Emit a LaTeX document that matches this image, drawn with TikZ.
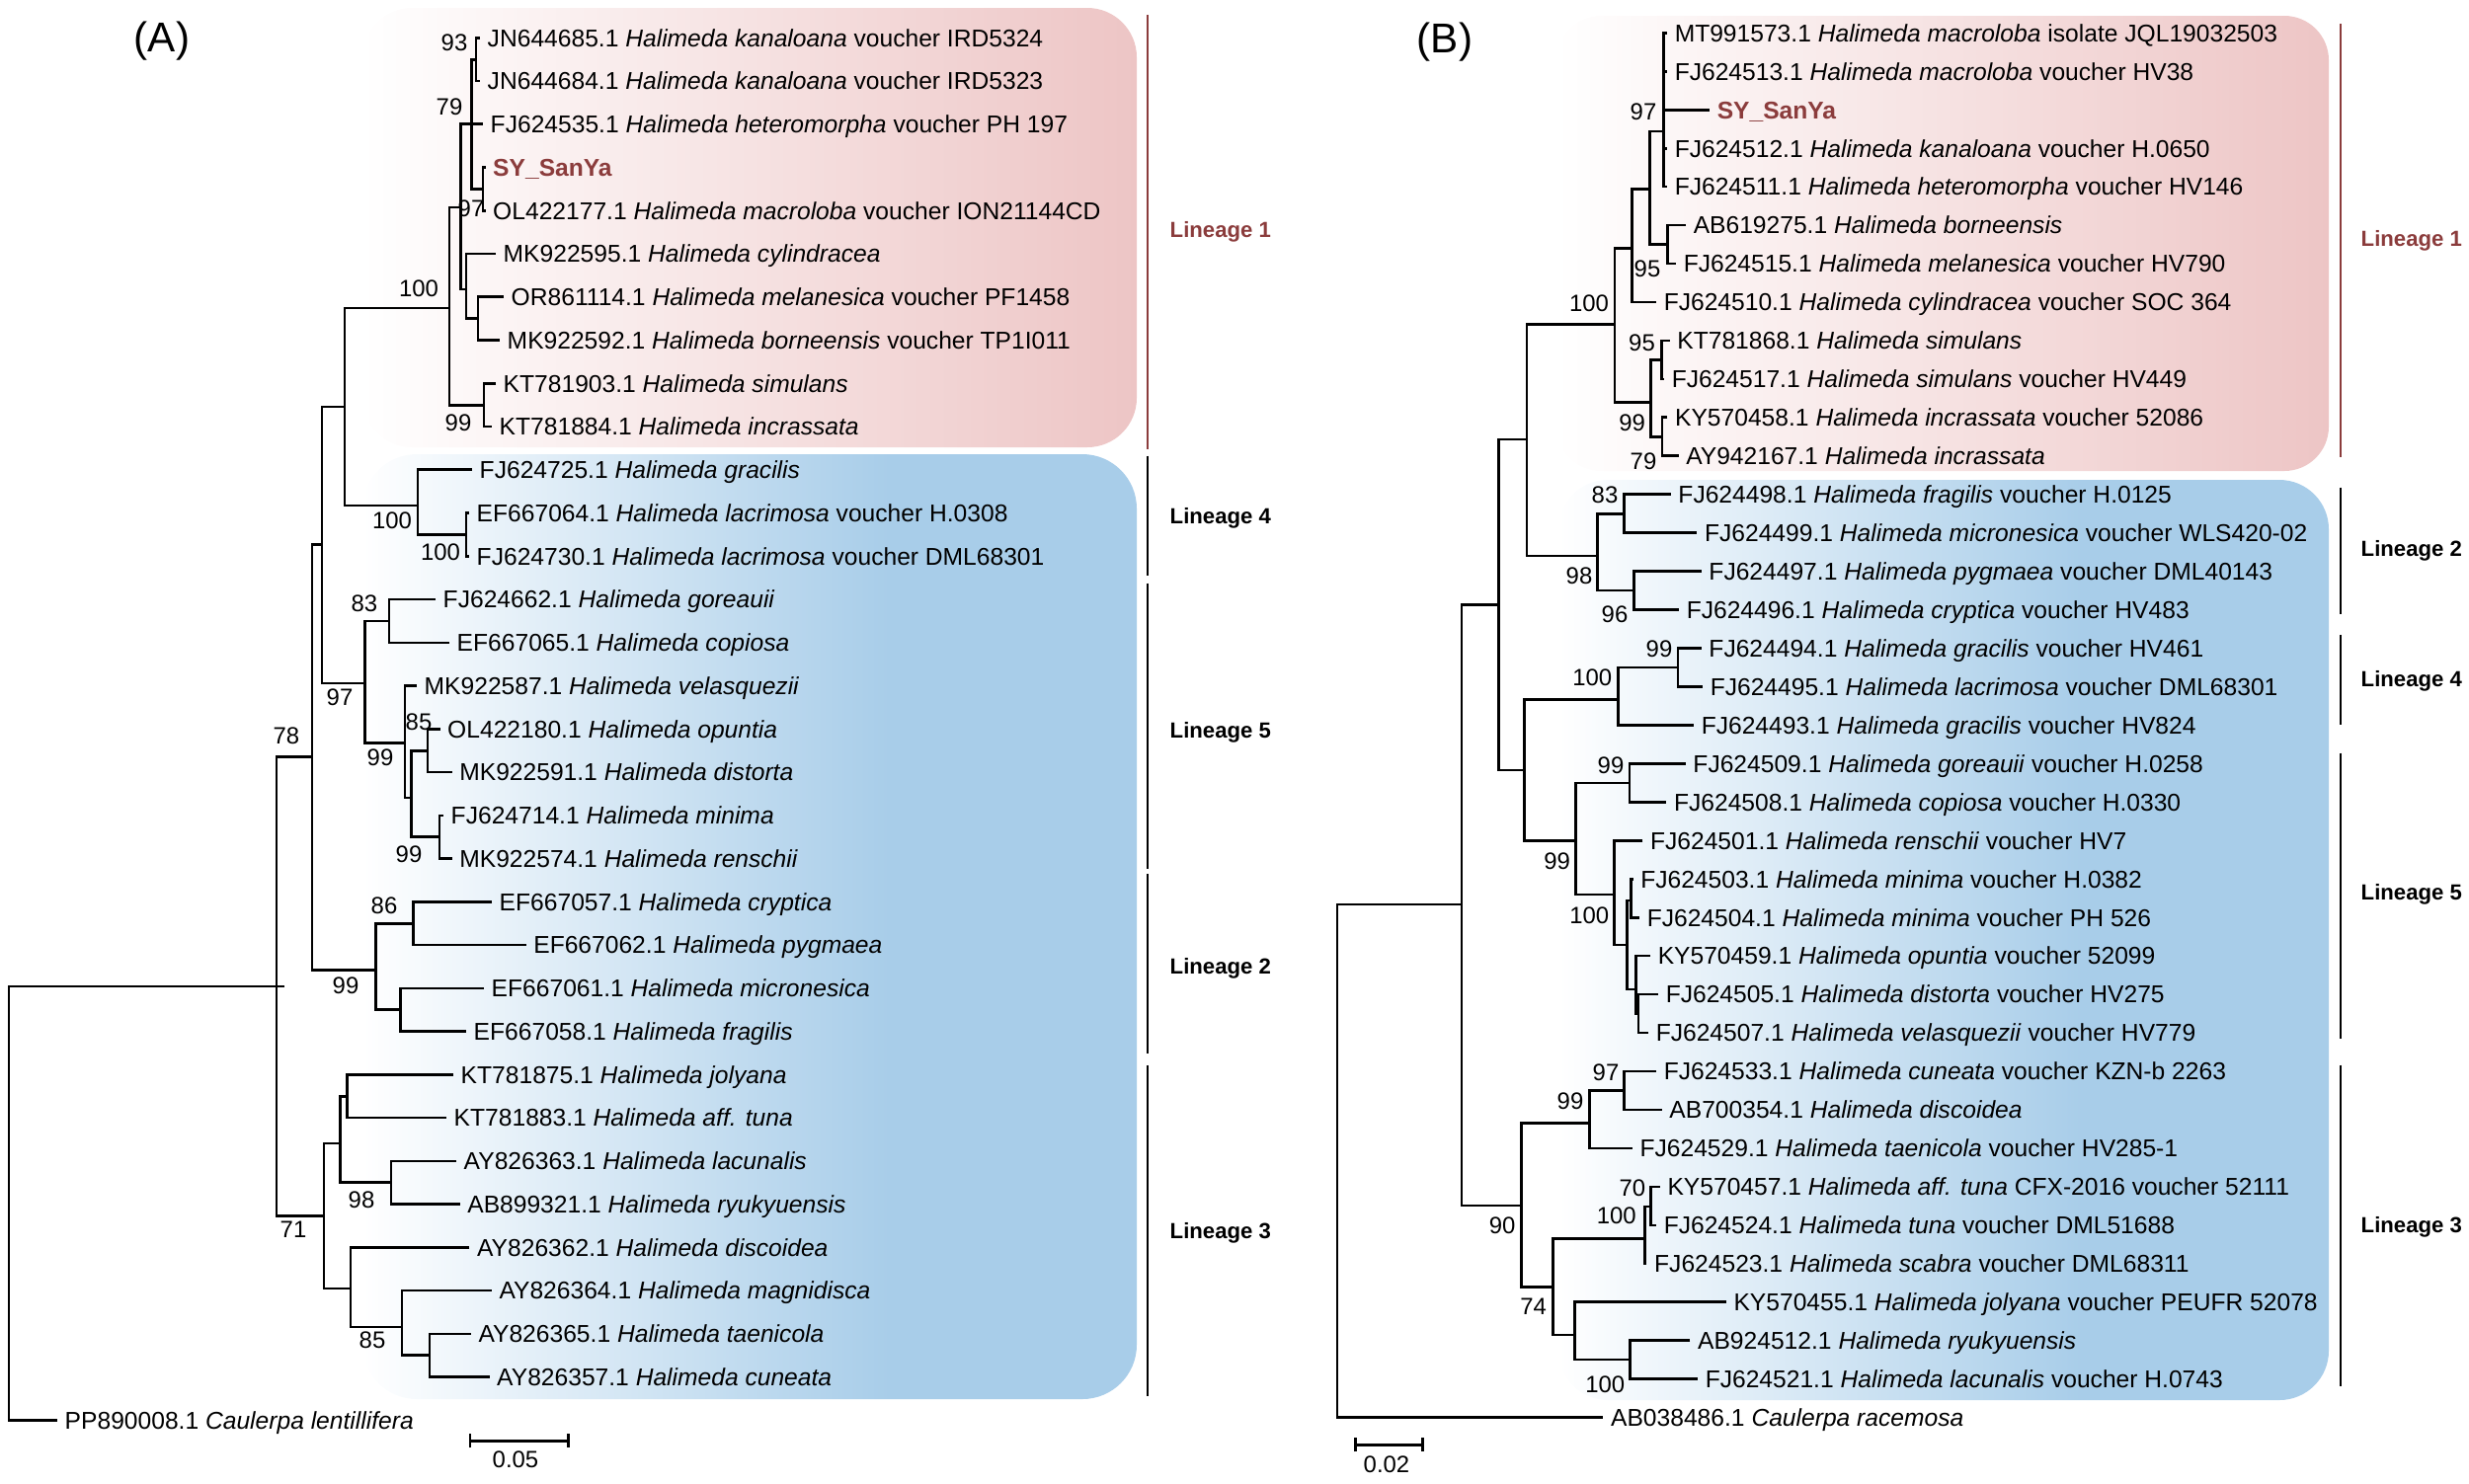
\documentclass[tikz,border=0pt]{standalone}
\usepackage{fontspec}
\setmainfont{Liberation Sans}
\usetikzlibrary{arrows.meta}
\definecolor{linred}{RGB}{139,60,60}
\definecolor{pinkend}{RGB}{237,197,197}
\definecolor{blueend}{RGB}{168,205,233}
\pgfdeclarehorizontalshading{pinkfade}{100bp}{color(0bp)=(white); color(25bp)=(white); color(75bp)=(pinkend); color(100bp)=(pinkend)}
\pgfdeclarehorizontalshading{bluefade}{100bp}{color(0bp)=(white); color(25bp)=(white); color(59bp)=(blueend); color(100bp)=(blueend)}

\begin{document}
\begin{tikzpicture}[x=0.01cm,y=-0.01cm,
	br/.style={line width=0.75pt},
	grp/.style={line width=0.8pt},
	tx/.style={anchor=west,inner xsep=2pt,inner ysep=0pt,text height=5pt,text depth=0pt,font=\fontsize{7}{8}\selectfont},
	bs/.style={inner sep=0pt,font=\fontsize{6.8}{7}\selectfont},
	lin/.style={anchor=west,inner sep=0pt,text height=4.5pt,text depth=0pt,font=\fontsize{6.3}{7}\selectfont\bfseries},
	panel/.style={inner sep=0pt,font=\fontsize{12}{14}\selectfont},
	sbar/.style={line width=0.8pt,{Bar[width=4pt]}-{Bar[width=4pt]}}]
		\useasboundingbox (0,0) rectangle (2500,1502);
		% lineage backgrounds
		\shade[shading=pinkfade,rounded corners=0.5cm] (367,8) rectangle (1151,453);
		\shade[shading=bluefade,rounded corners=0.55cm] (367,460) rectangle (1151,1417);
		\shade[shading=pinkfade,rounded corners=0.45cm] (1576,16) rectangle (2358,477);
		\shade[shading=bluefade,rounded corners=0.5cm] (1578,486) rectangle (2358,1418);
		\node[panel] (pA) at (164,42) {(A)};
		\node[panel] (pB) at (1463,42.5) {(B)};

		% ---------- tree (A) ----------
		\coordinate (a0) at (486,38.3);
		\coordinate (a1) at (486,82.1);
		\coordinate (a2) at (489,125.8);
		\coordinate (a3) at (491.5,169.6);
		\coordinate (a4) at (491.5,213.3);
		\coordinate (a5) at (502,257.1);
		\coordinate (a6) at (510,300.8);
		\coordinate (a7) at (506,344.6);
		\coordinate (a8) at (502,388.3);
		\coordinate (a9) at (498,432.1);
		\coordinate (a10) at (478,475.8);
		\coordinate (a11) at (475,519.6);
		\coordinate (a12) at (475,563.3);
		\coordinate (a13) at (441,607.1);
		\coordinate (a14) at (455,650.8);
		\coordinate (a15) at (422,694.6);
		\coordinate (a16) at (445.5,738.3);
		\coordinate (a17) at (457.6,782.1);
		\coordinate (a18) at (449,825.8);
		\coordinate (a19) at (457.6,869.6);
		\coordinate (a20) at (498,913.3);
		\coordinate (a21) at (532.6,957.1);
		\coordinate (a22) at (490,1000.8);
		\coordinate (a23) at (472,1044.6);
		\coordinate (a24) at (459,1088.3);
		\coordinate (a25) at (452,1132.1);
		\coordinate (a26) at (462,1175.8);
		\coordinate (a27) at (465.6,1219.6);
		\coordinate (a28) at (475.4,1263.3);
		\coordinate (a29) at (497.8,1307.1);
		\coordinate (a30) at (476.8,1350.8);
		\coordinate (a31) at (495.5,1394.6);
		\coordinate (a32) at (58,1438.3);

		\coordinate (k93) at (482,60.2);
		\coordinate (k79) at (477.7,125.8);
		\coordinate (ksy) at (489,191.5);
		\coordinate (kq) at (466.5,210);
		\coordinate (kr) at (472,293);
		\coordinate (ks) at (484,322.7);
		\coordinate (kL1) at (455,312);
		\coordinate (kd) at (490,410.2);
		\coordinate (ke) at (349,412);
		\coordinate (kL4) at (423,512);
		\coordinate (kf) at (472,541.5);
		\coordinate (kg) at (326,551.7);
		\coordinate (kL5) at (369.6,692);
		\coordinate (kh) at (394,629);
		\coordinate (ki) at (410,752.7);
		\coordinate (kj) at (416.5,808);
		\coordinate (kk) at (433,760.2);
		\coordinate (km) at (445,847.7);
		\coordinate (kn) at (316,766.7);
		\coordinate (kL2) at (380.4,982.7);
		\coordinate (ko) at (418.8,935.2);
		\coordinate (kp) at (405.4,1022.7);
		\coordinate (kin) at (280,998.8);
		\coordinate (kL3) at (328,1231.5);
		\coordinate (kt) at (344.6,1158);
		\coordinate (ku) at (351.8,1110.2);
		\coordinate (kv) at (396,1197.7);
		\coordinate (kw) at (355,1305);
		\coordinate (kx) at (407,1344);
		\coordinate (ky) at (435,1372.7);
		\coordinate (rootA) at (9,998.8);
		\coordinate (rootAend) at (288,998.8);

		\draw[br] (a0) -| (k93) |- (a1);
		\draw[br] (k93) -| (k79) |- (ksy);
		\draw[br] (k79) -- (a2);
		\draw[br] (a3) -| (ksy) |- (a4);
		\draw[br] (k79) -| (kq) |- (kr);
		\draw[br] (a5) -| (kr) |- (ks);
		\draw[br] (a6) -| (ks) |- (a7);
		\draw[br] (kq) -| (kL1) |- (kd);
		\draw[br] (a8) -| (kd) |- (a9);
		\draw[br] (kL1) -| (ke) |- (kL4);
		\draw[br] (a10) -| (kL4) |- (kf);
		\draw[br] (a11) -| (kf) |- (a12);
		\draw[br] (ke) -| (kg) |- (kL5);
		\draw[br] (kh) -| (kL5) |- (ki);
		\draw[br] (a13) -| (kh) |- (a14);
		\draw[br] (a15) -| (ki) |- (kj);
		\draw[br] (kk) -| (kj) |- (km);
		\draw[br] (a16) -| (kk) |- (a17);
		\draw[br] (a18) -| (km) |- (a19);
		\draw[br] (kg) -| (kn) |- (kL2);
		\draw[br] (ko) -| (kL2) |- (kp);
		\draw[br] (a20) -| (ko) |- (a21);
		\draw[br] (a22) -| (kp) |- (a23);
		\draw[br] (kn) -| (kin) |- (kL3);
		\draw[br] (kt) -| (kL3) |- (kw);
		\draw[br] (ku) -| (kt) |- (kv);
		\draw[br] (a24) -| (ku) |- (a25);
		\draw[br] (a26) -| (kv) |- (a27);
		\draw[br] (a28) -| (kw) |- (kx);
		\draw[br] (a29) -| (kx) |- (ky);
		\draw[br] (a30) -| (ky) |- (a31);
		\draw[br] (rootAend) -- (rootA) |- (a32);

		\node[tx] (tA0) at (a0) {JN644685.1 \textit{Halimeda kanaloana} voucher IRD5324};
		\node[tx] (tA1) at (a1) {JN644684.1 \textit{Halimeda kanaloana} voucher IRD5323};
		\node[tx] (tA2) at (a2) {FJ624535.1 \textit{Halimeda heteromorpha} voucher PH 197};
		\node[tx,text=linred,font=\fontsize{7}{8}\selectfont\bfseries] (tA3) at (a3) {SY\_SanYa};
		\node[tx] (tA4) at (a4) {OL422177.1 \textit{Halimeda macroloba} voucher ION21144CD};
		\node[tx] (tA5) at (a5) {MK922595.1 \textit{Halimeda cylindracea}};
		\node[tx] (tA6) at (a6) {OR861114.1 \textit{Halimeda melanesica} voucher PF1458};
		\node[tx] (tA7) at (a7) {MK922592.1 \textit{Halimeda borneensis} voucher TP1I011};
		\node[tx] (tA8) at (a8) {KT781903.1 \textit{Halimeda simulans}};
		\node[tx] (tA9) at (a9) {KT781884.1 \textit{Halimeda incrassata}};
		\node[tx] (tA10) at (a10) {FJ624725.1 \textit{Halimeda gracilis}};
		\node[tx] (tA11) at (a11) {EF667064.1 \textit{Halimeda lacrimosa} voucher H.0308};
		\node[tx] (tA12) at (a12) {FJ624730.1 \textit{Halimeda lacrimosa} voucher DML68301};
		\node[tx] (tA13) at (a13) {FJ624662.1 \textit{Halimeda goreauii}};
		\node[tx] (tA14) at (a14) {EF667065.1 \textit{Halimeda copiosa}};
		\node[tx] (tA15) at (a15) {MK922587.1 \textit{Halimeda velasquezii}};
		\node[tx] (tA16) at (a16) {OL422180.1 \textit{Halimeda opuntia}};
		\node[tx] (tA17) at (a17) {MK922591.1 \textit{Halimeda distorta}};
		\node[tx] (tA18) at (a18) {FJ624714.1 \textit{Halimeda minima}};
		\node[tx] (tA19) at (a19) {MK922574.1 \textit{Halimeda renschii}};
		\node[tx] (tA20) at (a20) {EF667057.1 \textit{Halimeda cryptica}};
		\node[tx] (tA21) at (a21) {EF667062.1 \textit{Halimeda pygmaea}};
		\node[tx] (tA22) at (a22) {EF667061.1 \textit{Halimeda micronesica}};
		\node[tx] (tA23) at (a23) {EF667058.1 \textit{Halimeda fragilis}};
		\node[tx] (tA24) at (a24) {KT781875.1 \textit{Halimeda jolyana}};
		\node[tx] (tA25) at (a25) {KT781883.1 \textit{Halimeda aff. tuna}};
		\node[tx] (tA26) at (a26) {AY826363.1 \textit{Halimeda lacunalis}};
		\node[tx] (tA27) at (a27) {AB899321.1 \textit{Halimeda ryukyuensis}};
		\node[tx] (tA28) at (a28) {AY826362.1 \textit{Halimeda discoidea}};
		\node[tx] (tA29) at (a29) {AY826364.1 \textit{Halimeda magnidisca}};
		\node[tx] (tA30) at (a30) {AY826365.1 \textit{Halimeda taenicola}};
		\node[tx] (tA31) at (a31) {AY826357.1 \textit{Halimeda cuneata}};
		\node[tx] (tA32) at (a32) {PP890008.1 \textit{Caulerpa lentillifera}};

		% bootstrap values (A)
		\node[bs] (sA1) at (460,43) {93};
		\node[bs] (sA2) at (455,108) {79};
		\node[bs] (sA3) at (477,211) {97};
		\node[bs] (sA4) at (424,292) {100};
		\node[bs] (sA5) at (464,428) {99};
		\node[bs] (sA6) at (397,527) {100};
		\node[bs] (sA7) at (446,559) {100};
		\node[bs] (sA8) at (369,611.7) {83};
		\node[bs] (sA9) at (344,706.7) {97};
		\node[bs] (sA10) at (424,731.7) {85};
		\node[bs] (sA11) at (385,767.7) {99};
		\node[bs] (sA12) at (414,865) {99};
		\node[bs] (sA13) at (290,745) {78};
		\node[bs] (sA14) at (389,917) {86};
		\node[bs] (sA15) at (350,998) {99};
		\node[bs] (sA16) at (297,1245.5) {71};
		\node[bs] (sA17) at (366,1215.5) {98};
		\node[bs] (sA18) at (377,1357.6) {85};

		% lineage brackets (A)
		\coordinate (gA1t) at (1162,15);  \coordinate (gA1b) at (1162,455);
		\coordinate (gA4t) at (1162,461.7); \coordinate (gA4b) at (1162,582.7);
		\coordinate (gA5t) at (1162,590.7); \coordinate (gA5b) at (1162,880);
		\coordinate (gA2t) at (1162,885);   \coordinate (gA2b) at (1162,1067.3);
		\coordinate (gA3t) at (1162,1078.8); \coordinate (gA3b) at (1162,1413.5);
		\draw[grp,linred] (gA1t) -- (gA1b);
		\draw[grp] (gA4t) -- (gA4b);
		\draw[grp] (gA5t) -- (gA5b);
		\draw[grp] (gA2t) -- (gA2b);
		\draw[grp] (gA3t) -- (gA3b);
		\node[lin,text=linred] (lA1) at (1184,233) {Lineage 1};
		\node[lin] (lA4) at (1184,523) {Lineage 4};
		\node[lin] (lA5) at (1184,740) {Lineage 5};
		\node[lin] (lA2) at (1184,979) {Lineage 2};
		\node[lin] (lA3) at (1184,1247) {Lineage 3};

		% scale (A)
		\coordinate (sbA0) at (474.6,1459.3);
		\coordinate (sbA1) at (577.2,1459.3);
		\draw[sbar] (sbA0) -- (sbA1);
		\node[bs] (sbAl) at (522,1478) {0.05};

		% ---------- tree (B) ----------
		\coordinate (b0) at (1688,33.3);
		\coordinate (b1) at (1688,72.3);
		\coordinate (b2) at (1731,111.2);
		\coordinate (b3) at (1688,150.2);
		\coordinate (b4) at (1688,189.1);
		\coordinate (b5) at (1707,228.1);
		\coordinate (b6) at (1697,267.0);
		\coordinate (b7) at (1677,306.0);
		\coordinate (b8) at (1690.6,344.9);
		\coordinate (b9) at (1685,383.9);
		\coordinate (b10) at (1688.4,422.8);
		\coordinate (b11) at (1699.5,461.8);
		\coordinate (b12) at (1691.7,500.7);
		\coordinate (b13) at (1718.3,539.7);
		\coordinate (b14) at (1722.7,578.6);
		\coordinate (b15) at (1700,617.6);
		\coordinate (b16) at (1722.7,656.5);
		\coordinate (b17) at (1724,695.5);
		\coordinate (b18) at (1715,734.4);
		\coordinate (b19) at (1706.7,773.4);
		\coordinate (b20) at (1687.3,812.3);
		\coordinate (b21) at (1663.3,851.3);
		\coordinate (b22) at (1653.5,890.2);
		\coordinate (b23) at (1660,929.2);
		\coordinate (b24) at (1671,968.1);
		\coordinate (b25) at (1679,1007.1);
		\coordinate (b26) at (1669,1046.0);
		\coordinate (b27) at (1677,1085.0);
		\coordinate (b28) at (1682.7,1123.9);
		\coordinate (b29) at (1652.8,1162.9);
		\coordinate (b30) at (1680.8,1201.8);
		\coordinate (b31) at (1677,1240.8);
		\coordinate (b32) at (1667.4,1279.7);
		\coordinate (b33) at (1747.8,1318.7);
		\coordinate (b34) at (1711.4,1357.6);
		\coordinate (b35) at (1719,1396.6);
		\coordinate (b36) at (1623.4,1435.5);

		\coordinate (m97) at (1684.5,133);
		\coordinate (ma) at (1670.5,191.7);
		\coordinate (mb) at (1688.4,247.5);
		\coordinate (mc) at (1652.7,251.7);
		\coordinate (mL1) at (1634.8,328.3);
		\coordinate (md) at (1671.4,407.3);
		\coordinate (me) at (1682.6,364.4);
		\coordinate (mf) at (1683,442.3);
		\coordinate (mg) at (1546,445);
		\coordinate (mL2) at (1617.7,563);
		\coordinate (mh) at (1644.3,520.2);
		\coordinate (mi) at (1654.3,598.1);
		\coordinate (mj) at (1517.7,612.5);
		\coordinate (mk) at (1543.3,780);
		\coordinate (mL4) at (1638.3,708.6);
		\coordinate (mm) at (1699,676);
		\coordinate (mL5) at (1595.7,851.4);
		\coordinate (mn) at (1650,792.9);
		\coordinate (mo) at (1634.3,906);
		\coordinate (mp) at (1647.7,956.8);
		\coordinate (mq) at (1651.7,912);
		\coordinate (mr) at (1656.7,1002);
		\coordinate (ms) at (1659,1026.5);
		\coordinate (mt) at (1480,916);
		\coordinate (mL3) at (1540.3,1221);
		\coordinate (mu) at (1609.2,1137.7);
		\coordinate (mw) at (1644.4,1104.5);
		\coordinate (mv) at (1572.5,1303.2);
		\coordinate (mx) at (1665.5,1254.6);
		\coordinate (mz) at (1671.2,1222);
		\coordinate (my) at (1594.7,1352.1);
		\coordinate (m100) at (1650.2,1377.1);
		\coordinate (rootB) at (1354,916);

		\draw[br] (b0) -| (m97) |- (b4);
		\draw[br] (m97) |- (b1);
		\draw[br] (m97) |- (b2);
		\draw[br] (m97) |- (b3);
		\draw[br] (m97) -| (ma) |- (mb);
		\draw[br] (b5) -| (mb) |- (b6);
		\draw[br] (ma) -| (mc) |- (b7);
		\draw[br] (mc) -| (mL1) |- (md);
		\draw[br] (me) -| (md) |- (mf);
		\draw[br] (b8) -| (me) |- (b9);
		\draw[br] (b10) -| (mf) |- (b11);
		\draw[br] (mL1) -| (mg) |- (mL2);
		\draw[br] (mh) -| (mL2) |- (mi);
		\draw[br] (b12) -| (mh) |- (b13);
		\draw[br] (b14) -| (mi) |- (b15);
		\draw[br] (mg) -| (mj) |- (mk);
		\draw[br] (mL4) -| (mk) |- (mL5);
		\draw[br] (mm) -| (mL4) |- (b18);
		\draw[br] (b16) -| (mm) |- (b17);
		\draw[br] (mn) -| (mL5) |- (mo);
		\draw[br] (b19) -| (mn) |- (b20);
		\draw[br] (b21) -| (mo) |- (mp);
		\draw[br] (mq) -| (mp) |- (mr);
		\draw[br] (b22) -| (mq) |- (b23);
		\draw[br] (b24) -| (mr) |- (ms);
		\draw[br] (b25) -| (ms) |- (b26);
		\draw[br] (mj) -| (mt) |- (mL3);
		\draw[br] (mu) -| (mL3) |- (mv);
		\draw[br] (mw) -| (mu) |- (b29);
		\draw[br] (b27) -| (mw) |- (b28);
		\draw[br] (mx) -| (mv) |- (my);
		\draw[br] (mz) -| (mx) |- (b32);
		\draw[br] (b30) -| (mz) |- (b31);
		\draw[br] (b33) -| (my) |- (m100);
		\draw[br] (b34) -| (m100) |- (b35);
		\draw[br] (mt) -- (rootB) |- (b36);

		\node[tx] (tB0) at (b0) {MT991573.1 \textit{Halimeda macroloba} isolate JQL19032503};
		\node[tx] (tB1) at (b1) {FJ624513.1 \textit{Halimeda macroloba} voucher HV38};
		\node[tx,text=linred,font=\fontsize{7}{8}\selectfont\bfseries] (tB2) at (b2) {SY\_SanYa};
		\node[tx] (tB3) at (b3) {FJ624512.1 \textit{Halimeda kanaloana} voucher H.0650};
		\node[tx] (tB4) at (b4) {FJ624511.1 \textit{Halimeda heteromorpha} voucher HV146};
		\node[tx] (tB5) at (b5) {AB619275.1 \textit{Halimeda borneensis}};
		\node[tx] (tB6) at (b6) {FJ624515.1 \textit{Halimeda melanesica} voucher HV790};
		\node[tx] (tB7) at (b7) {FJ624510.1 \textit{Halimeda cylindracea} voucher SOC 364};
		\node[tx] (tB8) at (b8) {KT781868.1 \textit{Halimeda simulans}};
		\node[tx] (tB9) at (b9) {FJ624517.1 \textit{Halimeda simulans} voucher HV449};
		\node[tx] (tB10) at (b10) {KY570458.1 \textit{Halimeda incrassata} voucher 52086};
		\node[tx] (tB11) at (b11) {AY942167.1 \textit{Halimeda incrassata}};
		\node[tx] (tB12) at (b12) {FJ624498.1 \textit{Halimeda fragilis} voucher H.0125};
		\node[tx] (tB13) at (b13) {FJ624499.1 \textit{Halimeda micronesica} voucher WLS420-02};
		\node[tx] (tB14) at (b14) {FJ624497.1 \textit{Halimeda pygmaea} voucher DML40143};
		\node[tx] (tB15) at (b15) {FJ624496.1 \textit{Halimeda cryptica} voucher HV483};
		\node[tx] (tB16) at (b16) {FJ624494.1 \textit{Halimeda gracilis} voucher HV461};
		\node[tx] (tB17) at (b17) {FJ624495.1 \textit{Halimeda lacrimosa} voucher DML68301};
		\node[tx] (tB18) at (b18) {FJ624493.1 \textit{Halimeda gracilis} voucher HV824};
		\node[tx] (tB19) at (b19) {FJ624509.1 \textit{Halimeda goreauii} voucher H.0258};
		\node[tx] (tB20) at (b20) {FJ624508.1 \textit{Halimeda copiosa} voucher H.0330};
		\node[tx] (tB21) at (b21) {FJ624501.1 \textit{Halimeda renschii} voucher HV7};
		\node[tx] (tB22) at (b22) {FJ624503.1 \textit{Halimeda minima} voucher H.0382};
		\node[tx] (tB23) at (b23) {FJ624504.1 \textit{Halimeda minima} voucher PH 526};
		\node[tx] (tB24) at (b24) {KY570459.1 \textit{Halimeda opuntia} voucher 52099};
		\node[tx] (tB25) at (b25) {FJ624505.1 \textit{Halimeda distorta} voucher HV275};
		\node[tx] (tB26) at (b26) {FJ624507.1 \textit{Halimeda velasquezii} voucher HV779};
		\node[tx] (tB27) at (b27) {FJ624533.1 \textit{Halimeda cuneata} voucher KZN-b 2263};
		\node[tx] (tB28) at (b28) {AB700354.1 \textit{Halimeda discoidea}};
		\node[tx] (tB29) at (b29) {FJ624529.1 \textit{Halimeda taenicola} voucher HV285-1};
		\node[tx] (tB30) at (b30) {KY570457.1 \textit{Halimeda aff. tuna} CFX-2016 voucher 52111};
		\node[tx] (tB31) at (b31) {FJ624524.1 \textit{Halimeda tuna} voucher DML51688};
		\node[tx] (tB32) at (b32) {FJ624523.1 \textit{Halimeda scabra} voucher DML68311};
		\node[tx] (tB33) at (b33) {KY570455.1 \textit{Halimeda jolyana} voucher PEUFR 52078};
		\node[tx] (tB34) at (b34) {AB924512.1 \textit{Halimeda ryukyuensis}};
		\node[tx] (tB35) at (b35) {FJ624521.1 \textit{Halimeda lacunalis} voucher H.0743};
		\node[tx] (tB36) at (b36) {AB038486.1 \textit{Caulerpa racemosa}};

		% bootstrap values (B)
		\node[bs] (sB1) at (1664,113) {97};
		\node[bs] (sB2) at (1668,272) {95};
		\node[bs] (sB3) at (1609,307) {100};
		\node[bs] (sB4) at (1662.5,347) {95};
		\node[bs] (sB5) at (1652.7,428) {99};
		\node[bs] (sB6) at (1664,467) {79};
		\node[bs] (sB7) at (1625,501.4) {83};
		\node[bs] (sB8) at (1599,583) {98};
		\node[bs] (sB9) at (1635,622) {96};
		\node[bs] (sB10) at (1680,657) {99};
		\node[bs] (sB11) at (1612.3,686.4) {100};
		\node[bs] (sB12) at (1631,775) {99};
		\node[bs] (sB13) at (1576.7,872) {99};
		\node[bs] (sB14) at (1609.3,927.5) {100};
		\node[bs] (sB15) at (1626,1086.6) {97};
		\node[bs] (sB16) at (1590,1115.5) {99};
		\node[bs] (sB17) at (1652.8,1203.5) {70};
		\node[bs] (sB18) at (1636.8,1231.7) {100};
		\node[bs] (sB19) at (1521.2,1241.5) {90};
		\node[bs] (sB20) at (1552.6,1323.2) {74};
		\node[bs] (sB21) at (1625.3,1402.5) {100};

		% lineage brackets (B)
		\coordinate (gB1t) at (2370,24);    \coordinate (gB1b) at (2370,463.3);
		\coordinate (gB2t) at (2370,493.6); \coordinate (gB2b) at (2370,622);
		\coordinate (gB4t) at (2370,642.9); \coordinate (gB4b) at (2370,733.6);
		\coordinate (gB5t) at (2370,762.5); \coordinate (gB5b) at (2370,1052);
		\coordinate (gB3t) at (2370,1078.5); \coordinate (gB3b) at (2370,1404.2);
		\draw[grp,linred] (gB1t) -- (gB1b);
		\draw[grp] (gB2t) -- (gB2b);
		\draw[grp] (gB4t) -- (gB4b);
		\draw[grp] (gB5t) -- (gB5b);
		\draw[grp] (gB3t) -- (gB3b);
		\node[lin,text=linred] (lB1) at (2390,241.7) {Lineage 1};
		\node[lin] (lB2) at (2390,556) {Lineage 2};
		\node[lin] (lB4) at (2390,688) {Lineage 4};
		\node[lin] (lB5) at (2390,904) {Lineage 5};
		\node[lin] (lB3) at (2390,1240.5) {Lineage 3};

		% scale (B)
		\coordinate (sbB0) at (1370.8,1463.4);
		\coordinate (sbB1) at (1441.6,1463.4);
		\draw[sbar] (sbB0) -- (sbB1);
		\node[bs] (sbBl) at (1404,1483.5) {0.02};
\end{tikzpicture}
\end{document}
